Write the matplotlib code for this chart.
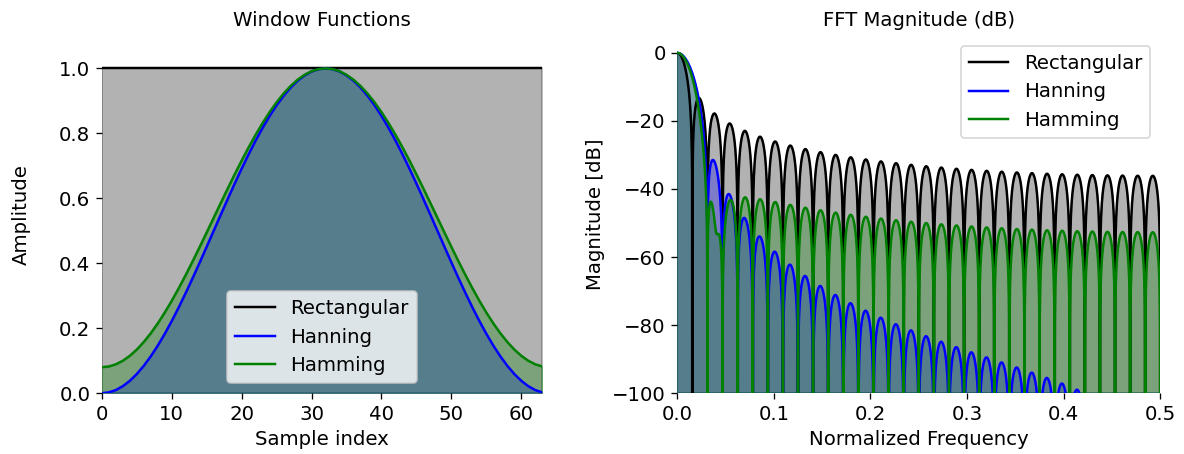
import numpy as np
import matplotlib
matplotlib.use('Agg')
from matplotlib import pyplot as plt

# window settings
N = 64
nfft = 4096
names = ['Rectangular', 'Hanning', 'Hamming']
colors = ['black', 'blue', 'green']
# periodic windows (length N+1, last sample dropped)
windows = [np.ones(N), np.hanning(N + 1)[:-1], np.hamming(N + 1)[:-1]]
db_floor = -100

n = np.arange(N)
freq = np.fft.rfftfreq(nfft)

dpi = 118.4
fig = plt.figure(figsize=(1184 / dpi, 454 / dpi), dpi=dpi)
ax1 = fig.add_axes([0.086, 0.134, 0.372, 0.787])
ax2 = fig.add_axes([0.572, 0.134, 0.408, 0.787])

for w, name, c in zip(windows, names, colors):
    ax1.plot(n, w, color=c, label=name)
    ax1.fill_between(n, w, color=c, alpha=0.3)

    A = np.abs(np.fft.rfft(w, nfft))
    db = 20 * np.log10(A / A.max() + 1e-12)
    ax2.plot(freq, db, color=c, label=name)
    ax2.fill_between(freq, db, db_floor, color=c, alpha=0.3)

ax1.set_title('Window Functions', fontsize=12)
ax1.set_xlabel('Sample index', fontsize=12)
ax1.set_ylabel('Amplitude', fontsize=12, labelpad=17)
ax1.set_xlim(0, N - 1)
ax1.set_ylim(0, 1.1)
ax1.set_yticks([0, 0.2, 0.4, 0.6, 0.8, 1.0])
ax1.legend(loc='lower center', fontsize=12)

ax2.set_title('FFT Magnitude (dB)', fontsize=12)
ax2.set_xlabel('Normalized Frequency', fontsize=12)
ax2.set_ylabel('Magnitude [dB]', fontsize=12)
ax2.set_xlim(0, 0.5)
ax2.set_ylim(db_floor, 5)
ax2.set_yticks([-100, -80, -60, -40, -20, 0])
ax2.legend(loc='upper right', fontsize=12)

for ax in (ax1, ax2):
    for s in ax.spines.values():
        s.set_visible(False)
    ax.tick_params(labelsize=12)

fig.savefig('out.png', dpi=dpi)
